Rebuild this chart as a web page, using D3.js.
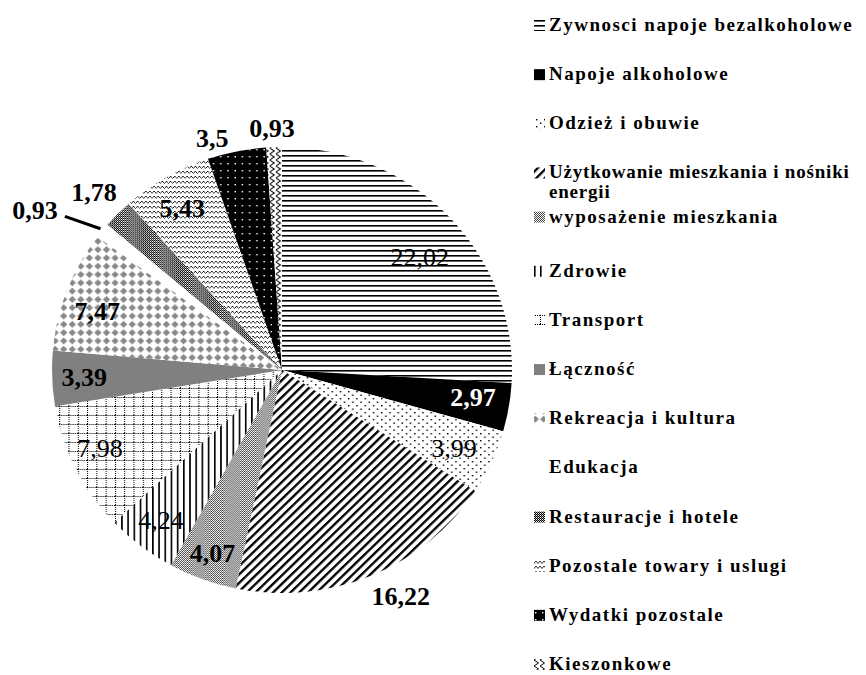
<!DOCTYPE html>
<html>
<head>
<meta charset="utf-8">
<script src="https://cdn.jsdelivr.net/npm/d3@7"></script>
<style>
  html, body { margin: 0; padding: 0; background: #fff; }
  svg { display: block; }
</style>
</head>
<body>
<svg id="chart" width="866" height="675"></svg>
<script>
// ---------------- DATA ----------------
const categories = [
  "Zywnosci napoje bezalkoholowe",
  "Napoje alkoholowe",
  "Odzież i obuwie",
  "Użytkowanie mieszkania i nośniki energii",
  "wyposażenie mieszkania",
  "Zdrowie",
  "Transport",
  "Łączność",
  "Rekreacja i kultura",
  "Edukacja",
  "Restauracje i hotele",
  "Pozostale towary i uslugi",
  "Wydatki pozostale",
  "Kieszonkowe"
];
const values = [22.02, 2.97, 3.99, 16.22, 4.07, 4.24, 7.98, 3.39, 7.47, 0.93, 1.78, 5.43, 3.5, 0.93];
const valueLabels = values.map(v => String(v).replace(".", ","));

// ---------------- LAYOUT / STYLE ----------------
const W = 866, H = 675;
const cx = 282, cy = 370, ry = 223, rx = 230;
const fills = ["url(#p0)", "#000", "url(#p2)", "url(#p3)", "url(#p4)", "url(#p5)", "url(#p6)",
               "#808080", "url(#p8)", "#fff", "url(#p10)", "url(#p11)", "url(#p12)", "url(#p13)"];
// label placement: [radius px, angle offset deg] relative to slice mid angle
const labelPlace = [[178, 4], [193, -1.6], [189, 0], [255, -5], [196, 0.5], [193, 1], [198, 3],
                    [198, 0], [194, -3], null, [259, -1], [190, -1.4], [242, -5.4], [242, -0.4]];
const labelBold = [false, true, false, true, true, false, false, true, true, true, true, true, true, true];
const labelColor = values.map((v, i) => i === 1 ? "#fff" : "#000");

const svg = d3.select("#chart");
const defs = svg.append("defs");

function pat(id, w, h, bg, draw, transform) {
  const p = defs.append("pattern").attr("id", id)
    .attr("patternUnits", "userSpaceOnUse").attr("width", w).attr("height", h);
  if (transform) p.attr("patternTransform", transform);
  if (bg) p.append("rect").attr("width", w).attr("height", h).attr("fill", bg);
  draw(p);
}
// horizontal lines
pat("p0", 8, 5, "#fff", p => p.append("rect").attr("width", 8).attr("height", 1.6).attr("fill", "#000"));
// sparse dots
pat("p2", 8, 7, "#fff", p => {
  p.append("rect").attr("x", 0).attr("y", 0).attr("width", 1.4).attr("height", 1.4).attr("fill", "#000");
  p.append("rect").attr("x", 4).attr("y", 3.5).attr("width", 1.4).attr("height", 1.4).attr("fill", "#000");
});
// wide diagonal lines
pat("p3", 6, 6, "#fff", p => p.append("rect").attr("width", 2.3).attr("height", 6).attr("fill", "#000"), "rotate(45)");
// light checker
pat("p4", 2, 2, "#fff", p => {
  p.append("rect").attr("x", 0).attr("y", 0).attr("width", 1).attr("height", 1).attr("fill", "#444");
  p.append("rect").attr("x", 1).attr("y", 1).attr("width", 1).attr("height", 1).attr("fill", "#444");
});
// vertical lines
pat("p5", 6, 6, "#fff", p => p.append("rect").attr("width", 1.6).attr("height", 6).attr("fill", "#000"));
// dotted grid
pat("p6", 9, 9, "#fff", p => {
  for (let i = 0; i < 9; i += 2) {
    p.append("rect").attr("x", i).attr("y", 0).attr("width", 1).attr("height", 1).attr("fill", "#000");
    p.append("rect").attr("x", 0).attr("y", i).attr("width", 1).attr("height", 1).attr("fill", "#000");
  }
});
// gray diamonds
pat("p8", 8.3, 8.3, "#fff", p => p.append("path").attr("d", "M4.15,0.6L7.7,4.15L4.15,7.7L0.6,4.15Z").attr("fill", "#888"));
// dark checker
pat("p10", 2, 2, "#fff", p => {
  p.append("rect").attr("x", 0).attr("y", 0).attr("width", 1).attr("height", 1).attr("fill", "#000");
  p.append("rect").attr("x", 1).attr("y", 1).attr("width", 1).attr("height", 1).attr("fill", "#000");
  p.append("rect").attr("x", 1).attr("y", 0).attr("width", 1).attr("height", 1).attr("fill", "#999");
});
// small waves
pat("p11", 4, 5, "#fff", p => p.append("path").attr("d", "M0,1L2,3.5L4,1").attr("fill", "none").attr("stroke", "#000").attr("stroke-width", 0.8));
// black with white dots
pat("p12", 7, 7, "#000", p => p.append("rect").attr("x", 3).attr("y", 3).attr("width", 1.4).attr("height", 1.4).attr("fill", "#fff"));
// zigzag
pat("p13", 6, 6, "#fff", p => p.append("path").attr("d", "M0,0L4.5,3L0,6").attr("fill", "none").attr("stroke", "#000").attr("stroke-width", 1));

// ---------------- PIE ----------------
const pie = d3.pie().value(d => d).sort(null).startAngle(0).endAngle(2 * Math.PI);
const arcs = pie(values);
const arc = d3.arc().innerRadius(0).outerRadius(ry);

const g = svg.append("g").attr("transform", `translate(${cx},${cy}) scale(${rx / ry},1)`);
g.selectAll("path.slice").data(arcs).enter().append("path")
  .attr("class", "slice")
  .attr("d", arc)
  .attr("fill", (d, i) => fills[i]);

// labels
const polar = (r, angDeg) => {
  const a = angDeg * Math.PI / 180;
  return [cx + r * Math.sin(a), cy - r * Math.cos(a)];
};
const midDeg = d => (d.startAngle + d.endAngle) / 2 * 180 / Math.PI;

arcs.forEach((d, i) => {
  const lp = labelPlace[i];
  if (lp) {
    const [x, y] = polar(lp[0], midDeg(d) + lp[1]);
    svg.append("text")
      .attr("x", x).attr("y", y).attr("dy", "0.35em")
      .attr("text-anchor", "middle")
      .attr("font-family", "'Liberation Serif', 'Times New Roman', serif")
      .attr("font-size", 26)
      .attr("font-weight", labelBold[i] ? "bold" : "normal")
      .attr("fill", labelColor[i])
      .text(valueLabels[i]);
  } else {
    // leader line label (small white slice)
    const m = midDeg(d);
    const [x1, y1] = polar(230, m - 0.8);
    const [x0, y0] = polar(266, m - 3.4);
    svg.append("line").attr("x1", x0).attr("y1", y0).attr("x2", x1).attr("y2", y1)
      .attr("stroke", "#000").attr("stroke-width", 3);
    svg.append("text")
      .attr("x", x0 - 7).attr("y", y0 - 6).attr("dy", "0.35em")
      .attr("text-anchor", "end")
      .attr("font-family", "'Liberation Serif', 'Times New Roman', serif")
      .attr("font-size", 26)
      .attr("font-weight", labelBold[i] ? "bold" : "normal")
      .attr("fill", labelColor[i])
      .text(valueLabels[i]);
  }
});

// ---------------- LEGEND ----------------
const legendY = d3.scaleLinear().domain([0, categories.length - 1]).range([31, 670]);
const lg = svg.append("g");
categories.forEach((c, i) => {
  const by = legendY(i) + (i === 4 ? -5 : 0);
  lg.append("rect").attr("x", 534).attr("y", by - 11).attr("width", 11).attr("height", 11)
    .attr("fill", fills[i]);
  const wrapped = c.includes(" energii");
  const t = lg.append("text")
    .attr("x", 549).attr("y", by)
    .attr("font-family", "'Liberation Serif', 'Times New Roman', serif")
    .attr("font-size", 19).attr("font-weight", "bold")
    .attr("letter-spacing", wrapped ? 0.8 : 1.5)
    .attr("fill", "#000");
  if (wrapped) {
    t.append("tspan").attr("x", 549).text(c.replace(" energii", ""));
    t.append("tspan").attr("x", 549).attr("dy", 20).text("energii");
  } else {
    t.text(c);
  }
});
</script>
</body>
</html>
